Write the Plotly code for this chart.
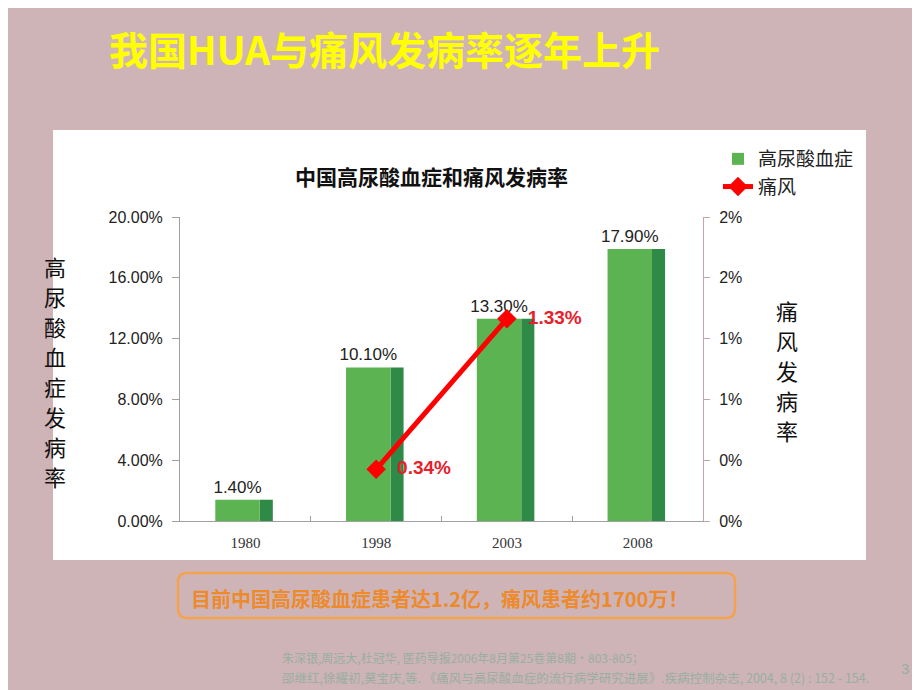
import plotly.graph_objects as go

years = ["1980", "1998", "2003", "2008"]
hua_rate = [0.014, 0.101, 0.133, 0.179]
gout_years = ["1998", "2003"]
gout_rate = [0.0034, 0.0133]
left_ticks = [0, 0.04, 0.08, 0.12, 0.16, 0.20]
right_ticks = [0, 0.004, 0.008, 0.012, 0.016, 0.020]

# page offset (browser body margin) and plot-area geometry in reference pixels
OFF = 8
L, R, T, B = 180, 703, 217, 521
W, H = 920, 690


def px(x):
    return (x - L) / (R - L)


def py(y):
    return (B - y) / (B - T)


BG = "#cfb4b7"
fig = go.Figure()

# side face of bars (3D look)
fig.add_trace(go.Bar(
    x=years, y=hua_rate, width=0.10, offset=0.11,
    marker=dict(color="#2e8a46", line=dict(width=0)),
    showlegend=False, hoverinfo="skip"))

# front face of bars
fig.add_trace(go.Bar(
    x=years, y=hua_rate, width=0.34, offset=-0.23,
    name="高尿酸血症",
    marker=dict(color="#5cb352", line=dict(width=0)),
    text=[f"{v*100:.2f}%" for v in hua_rate],
    textposition="outside", constraintext="none",
    textfont=dict(family="Liberation Sans", size=17, color="#222222"),
    cliponaxis=False))

fig.add_trace(go.Scatter(
    x=gout_years, y=gout_rate, yaxis="y2", name="痛风",
    mode="lines+markers+text",
    line=dict(color="#ff0000", width=5),
    marker=dict(symbol="diamond", size=15, color="#ff0000"),
    text=[f"&nbsp;&nbsp;<b>{v*100:.2f}%</b>" for v in gout_rate],
    textposition="middle right",
    textfont=dict(family="Liberation Sans", size=19, color="#e8202a"),
    cliponaxis=False))

shapes = [
    dict(type="rect", xref="paper", yref="paper",
         x0=px(53), x1=px(866), y0=py(560), y1=py(130),
         fillcolor="white", line=dict(width=0), layer="below"),
]

bx0, bx1, by0, by1 = 178, 735, 573, 618
r = 9
path = (f"M {px(bx0 + r)} {py(by0)} L {px(bx1 - r)} {py(by0)} "
        f"Q {px(bx1)} {py(by0)} {px(bx1)} {py(by0 + r)} "
        f"L {px(bx1)} {py(by1 - r)} Q {px(bx1)} {py(by1)} {px(bx1 - r)} {py(by1)} "
        f"L {px(bx0 + r)} {py(by1)} Q {px(bx0)} {py(by1)} {px(bx0)} {py(by1 - r)} "
        f"L {px(bx0)} {py(by0 + r)} Q {px(bx0)} {py(by0)} {px(bx0 + r)} {py(by0)} Z")
shapes.append(dict(type="path", xref="paper", yref="paper", path=path,
                   fillcolor="rgba(0,0,0,0)",
                   line=dict(color="#f4a24c", width=2.5)))

CJK = "Noto Sans CJK SC"


def ann(text, x, y, size, color, xanchor="center", family=CJK):
    return dict(text=text, x=px(x), y=py(y), xref="paper", yref="paper",
                xanchor=xanchor, yanchor="middle", showarrow=False,
                font=dict(family=family, size=size, color=color))


annotations = [
    ann("<b>我国HUA与痛风发病率逐年上升</b>", 384, 48, 39, "#ffff00"),
    ann("<b>中国高尿酸血症和痛风发病率</b>", 431, 176, 21, "#111111"),
    ann("<b>目前中国高尿酸血症患者达1.2亿，痛风患者约1700万！</b>",
        189, 598, 20, "#ec8a2c", xanchor="left"),
    ann("朱深银,周远大,杜冠华, 医药导报2006年8月第25卷第8期·803-805；",
        280, 657, 12, "#98ae9f", xanchor="left"),
    ann("邵继红,徐耀初,莫宝庆,等. 《痛风与高尿酸血症的流行病学研究进展》.疾病控制杂志, 2004, 8 (2) : 152 - 154.",
        280, 677, 12.5, "#98ae9f", xanchor="left"),
    ann("3", 905, 668, 15, "#98ae9f", family="Liberation Sans"),
]
# vertical axis titles, one character each
for i, ch in enumerate("高尿酸血症发病率"):
    annotations.append(ann(ch, 55, 266 + 30 * i, 22, "#111111"))
for i, ch in enumerate("痛风发病率"):
    annotations.append(ann(ch, 787, 310 + 30 * i, 22, "#111111"))

fig.update_layout(
    width=W, height=H,
    margin=dict(l=L - OFF, r=W - R + OFF, t=T - OFF, b=H - B + OFF),
    paper_bgcolor=BG, plot_bgcolor="rgba(0,0,0,0)",
    barmode="overlay",
    shapes=shapes, annotations=annotations,
    showlegend=True,
    legend=dict(x=px(718), y=py(140), xanchor="left", yanchor="top",
                bgcolor="rgba(0,0,0,0)",
                font=dict(family=CJK, size=19, color="#222222"),
                itemwidth=30),
    xaxis=dict(type="category", categoryorder="array", categoryarray=years,
               showline=True, linecolor="#a0a0a0", linewidth=1,
               ticks="inside", tickson="boundaries", ticklen=5, tickcolor="#a0a0a0",
               tickfont=dict(family="Liberation Serif", size=15, color="#333333"),
               ticklabelstandoff=8, showgrid=False, zeroline=False),
    yaxis=dict(range=[0, 0.20], tickvals=left_ticks,
               ticktext=[f"{v*100:.2f}%" for v in left_ticks],
               showline=True, linecolor="#a0a0a0", linewidth=1,
               ticks="outside", ticklen=7, tickcolor="#a0a0a0",
               tickfont=dict(family="Liberation Sans", size=16, color="#222222"),
               ticklabelstandoff=6, showgrid=False, zeroline=False),
    yaxis2=dict(range=[0, 0.02], overlaying="y", side="right",
                tickvals=right_ticks,
                ticktext=[f"{v*100:.0f}%" for v in right_ticks],
                showline=True, linecolor="#c9a3a6", linewidth=1,
                ticks="outside", ticklen=6, tickcolor="#c9a3a6",
                tickfont=dict(family="Liberation Sans", size=16, color="#222222"),
                ticklabelstandoff=6, showgrid=False, zeroline=False),
)

fig.write_html("out.html")
